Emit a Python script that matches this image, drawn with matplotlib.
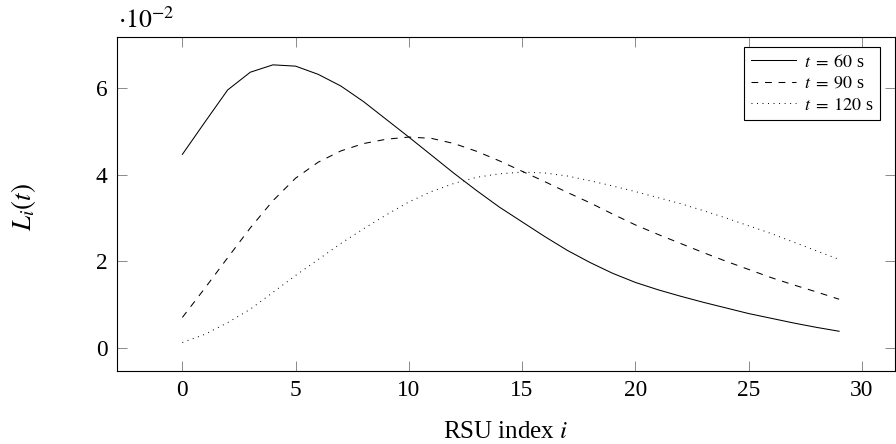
import matplotlib
matplotlib.use("Agg")
import matplotlib.pyplot as plt
from matplotlib.ticker import FixedLocator, FuncFormatter

# ---- data ----
rsu_index = list(range(30))
load_t60 = [0.0447, 0.0522, 0.0596, 0.0637, 0.0654, 0.0651, 0.0632, 0.0605, 0.0569, 0.0528,
            0.0487, 0.0445, 0.0403, 0.0363, 0.0325, 0.0291, 0.0257, 0.0225, 0.0197, 0.0172,
            0.0151, 0.0134, 0.0119, 0.0105, 0.0092, 0.0079, 0.0068, 0.0057, 0.0047, 0.0038]
load_t90 = [0.0070, 0.0138, 0.0208, 0.0277, 0.0340, 0.0392, 0.0429, 0.0455, 0.0472, 0.0482,
            0.0487, 0.0484, 0.0472, 0.0454, 0.0432, 0.0408, 0.0384, 0.0359, 0.0335, 0.0309,
            0.0284, 0.0262, 0.0241, 0.0220, 0.0200, 0.0181, 0.0162, 0.0145, 0.0129, 0.0112]
load_t120 = [0.0012, 0.0031, 0.0058, 0.0089, 0.0128, 0.0167, 0.0204, 0.0241, 0.0275, 0.0307,
             0.0337, 0.0361, 0.0380, 0.0394, 0.0402, 0.0406, 0.0404, 0.0397, 0.0386, 0.0374,
             0.0361, 0.0347, 0.0333, 0.0317, 0.0300, 0.0282, 0.0264, 0.0244, 0.0224, 0.0204]
series_labels = [r"$t\;=\;60$ s", r"$t\;=\;90$ s", r"$t\;=\;120$ s"]
x_ticks = [0, 5, 10, 15, 20, 25, 30]
y_ticks = [0.0, 0.02, 0.04, 0.06]

plt.rcParams["font.family"] = ["Liberation Serif", "DejaVu Serif"]
plt.rcParams["mathtext.fontset"] = "stix"

W, H = 896, 444
fig = plt.figure(figsize=(W / 100, H / 100), dpi=100)
left, right, top, bottom = 116.7, 894.6, 37.3, 370.7
ax = fig.add_axes([left / W, 1 - bottom / H, (right - left) / W, (bottom - top) / H])

lw = 0.75
ax.plot(rsu_index, load_t60, color="black", lw=lw, label=series_labels[0])
ax.plot(rsu_index, load_t90, color="black", lw=lw, linestyle=(0, (6.5, 6.5)), label=series_labels[1])
ax.plot(rsu_index, load_t120, color="black", lw=lw, linestyle=(0, (0.9, 4.4)), label=series_labels[2])

ax.set_xlim(-2.9, 31.45)
ax.set_ylim(-0.00532, 0.07177)
ax.xaxis.set_major_locator(FixedLocator(x_ticks))
ax.yaxis.set_major_locator(FixedLocator(y_ticks))
ax.yaxis.set_major_formatter(FuncFormatter(lambda v, p: f"{v*100:g}"))

ax.tick_params(direction="in", length=6.9, width=0.6, color="#777777",
               top=True, right=True, labelsize=16.8, pad=6.5)
for s in ax.spines.values():
    s.set_linewidth(0.8)
    s.set_color("black")

ax.set_xlabel(r"RSU index $i$", fontsize=18)
ax.xaxis.label.set_va("center")
ax.xaxis.set_label_coords(0.5, (bottom - 432) / (bottom - top))
ax.set_ylabel(r"$L_i(t)$", fontsize=19.5)
ax.yaxis.label.set_va("center")
ax.yaxis.set_label_coords((23 - left) / (right - left), 0.5 - 3 / (bottom - top))

fig.text(left / W + 0.001, 1 - 28 / H, r"$\cdot 10^{-2}$", fontsize=18.5, ha="left", va="baseline")

leg = ax.legend(loc="upper right",
                bbox_to_anchor=((880 - left) / (right - left), (bottom - 47.3) / (bottom - top)),
                borderaxespad=0, fontsize=13, frameon=True, fancybox=False,
                edgecolor="black", framealpha=1, borderpad=0.35, labelspacing=0.25,
                handlelength=2.5, handletextpad=0.45)
leg.get_frame().set_linewidth(0.8)

fig.savefig("out.png", dpi=100)
